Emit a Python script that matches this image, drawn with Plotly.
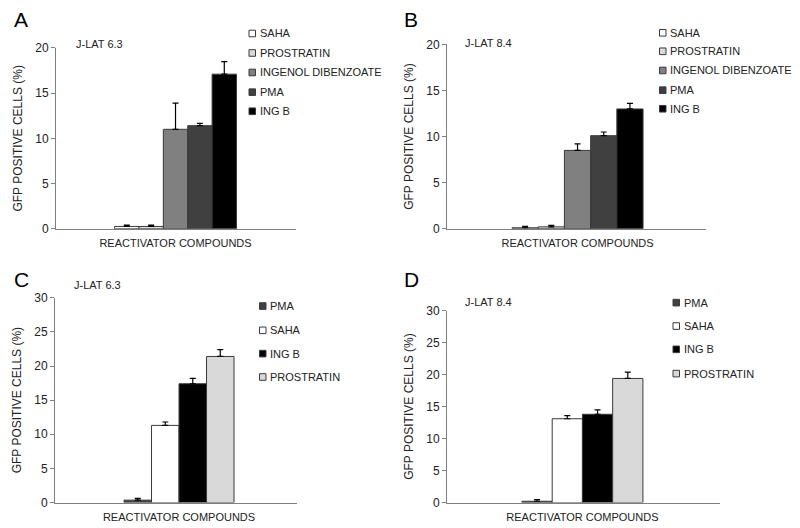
import plotly.graph_objects as go

W, H = 800, 528

# panel A / B : five compounds
ab_names = ["SAHA", "PROSTRATIN", "INGENOL DIBENZOATE", "PMA", "ING B"]
a_values = [0.25, 0.25, 11.0, 11.4, 17.1]
a_errors = [0.15, 0.15, 2.9, 0.25, 1.4]
b_values = [0.1, 0.2, 8.5, 10.1, 13.0]
b_errors = [0.15, 0.15, 0.7, 0.4, 0.6]

# panel C / D : four compounds
cd_names = ["PMA", "SAHA", "ING B", "PROSTRATIN"]
c_values = [0.35, 11.3, 17.4, 21.4]
c_errors = [0.25, 0.5, 0.8, 1.0]
d_values = [0.2, 13.1, 13.8, 19.4]
d_errors = [0.25, 0.5, 0.7, 1.0]

category = ["REACTIVATOR COMPOUNDS"]

colors = {
    "SAHA": "#ffffff",
    "PROSTRATIN": "#d9d9d9",
    "INGENOL DIBENZOATE": "#808080",
    "PMA": "#404040",
    "ING B": "#000000",
}

FONT = "Liberation Sans, Arial, sans-serif"

# the page puts the figure a little off the origin, so screen pixels are
# converted to paper fractions here
OFF_X, OFF_Y, SCALE_Y = 8, 15.5, 0.974


def px(x):
    return (x - OFF_X) / W


def py(y):
    return 1 - ((y - OFF_Y) / SCALE_Y) / H


# screen positions of each panel
panels = [
    dict(letter="A", cell="J-LAT 6.3", names=ab_names, values=a_values, errors=a_errors,
         xdom=(56, 296), ydom=(229.3, 48.5), ymax=20, xrange=(-0.5, 0.504),
         letter_xy=(12, 20), cell_xy=(74, 44.5),
         leg_x=249, leg_text=258, leg_y=[34, 53.5, 73, 92.7, 111.8]),
    dict(letter="B", cell="J-LAT 8.4", names=ab_names, values=b_values, errors=b_errors,
         xdom=(447, 706), ydom=(229.3, 45), ymax=20, xrange=(-0.508, 0.5),
         letter_xy=(402, 20), cell_xy=(463, 44),
         leg_x=659.5, leg_text=667.5, leg_y=[33.3, 51.8, 71, 90.7, 109.3]),
    dict(letter="C", cell="J-LAT 6.3", names=cd_names, values=c_values, errors=c_errors,
         xdom=(55, 297), ydom=(503.3, 298.4), ymax=30, xrange=(-0.575, 0.547),
         letter_xy=(12, 280), cell_xy=(72, 285.5),
         leg_x=259.5, leg_text=267.5, leg_y=[306.7, 331, 354.3, 377.7]),
    dict(letter="D", cell="J-LAT 8.4", names=cd_names, values=d_values, errors=d_errors,
         xdom=(447, 720), ydom=(503.3, 311.3), ymax=30, xrange=(-0.571, 0.58),
         letter_xy=(402, 280), cell_xy=(463, 303),
         leg_x=673, leg_text=681.5, leg_y=[303.3, 326.7, 350, 374.3]),
]

fig = go.Figure()
annotations = []
shapes = []

for i, p in enumerate(panels):
    n = "" if i == 0 else str(i + 1)
    for name, val, err in zip(p["names"], p["values"], p["errors"]):
        fig.add_trace(go.Bar(
            x=category, y=[val], name=name,
            xaxis="x" + n, yaxis="y" + n,
            marker=dict(color=colors[name], line=dict(color="#3a3a3a", width=1)),
            error_y=dict(type="data", symmetric=False, array=[err], arrayminus=[0],
                         color="#000000", thickness=1.2, width=3),
            showlegend=False,
        ))

    fig.update_layout({
        "xaxis" + n: dict(
            domain=[px(p["xdom"][0]), px(p["xdom"][1])],
            anchor="y" + n, range=list(p["xrange"]),
            showline=True, linecolor="#7f7f7f", linewidth=1,
            ticks="", showgrid=False, zeroline=False,
            tickfont=dict(family=FONT, size=11, color="#222222"),
            ticklabelstandoff=4, fixedrange=True,
        ),
        "yaxis" + n: dict(
            domain=[py(p["ydom"][0]), py(p["ydom"][1])],
            anchor="x" + n, range=[0, p["ymax"]], dtick=5,
            showline=True, linecolor="#7f7f7f", linewidth=1,
            ticks="outside", ticklen=4, tickcolor="#7f7f7f",
            showgrid=False, zeroline=False,
            tickfont=dict(family=FONT, size=12, color="#222222"),
            title=dict(text="GFP POSITIVE CELLS (%)", standoff=10,
                       font=dict(family=FONT, size=12, color="#222222")),
        ),
    })

    # panel letter and cell line
    annotations.append(dict(
        text=p["letter"], x=px(p["letter_xy"][0]), y=py(p["letter_xy"][1]),
        xref="paper", yref="paper", xanchor="left", yanchor="middle",
        showarrow=False, font=dict(family=FONT, size=21, color="#000000")))
    annotations.append(dict(
        text=p["cell"], x=px(p["cell_xy"][0]), y=py(p["cell_xy"][1]),
        xref="paper", yref="paper", xanchor="left", yanchor="middle",
        showarrow=False, font=dict(family=FONT, size=11, color="#222222")))

    # legend keys drawn by hand (small squares hugging the text)
    for name, ly in zip(p["names"], p["leg_y"]):
        x0 = p["leg_x"]
        shapes.append(dict(
            type="rect", xref="paper", yref="paper",
            x0=px(x0), x1=px(x0 + 6.5), y0=py(ly + 3.3), y1=py(ly - 3.3),
            fillcolor=colors[name], line=dict(color="#3a3a3a", width=1)))
        annotations.append(dict(
            text=name, x=px(p["leg_text"]), y=py(ly),
            xref="paper", yref="paper", xanchor="left", yanchor="middle",
            showarrow=False, font=dict(family=FONT, size=11, color="#222222")))

fig.update_layout(
    width=W, height=H,
    margin=dict(l=0, r=0, t=0, b=0),
    paper_bgcolor="white", plot_bgcolor="white",
    barmode="group", bargap=0.49, bargroupgap=0,
    showlegend=False,
    annotations=annotations, shapes=shapes,
    font=dict(family=FONT),
)

fig.write_html("out.html")
